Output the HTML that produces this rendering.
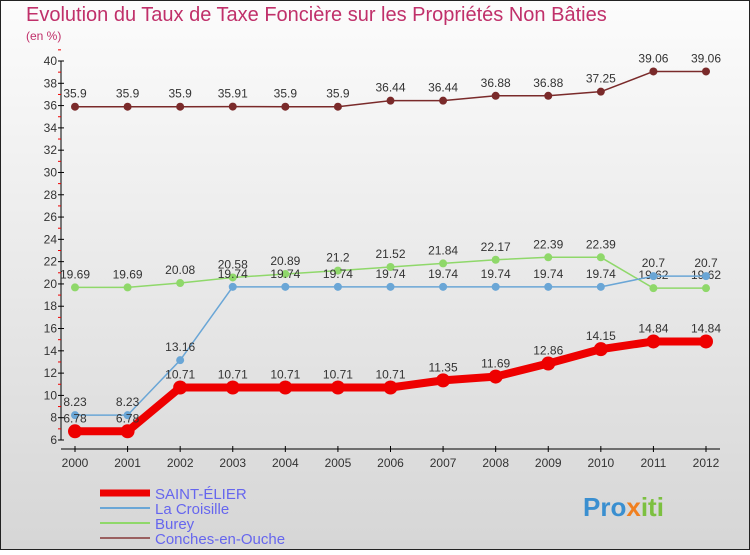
<!DOCTYPE html>
<html><head><meta charset="utf-8"><style>
body{margin:0;width:750px;height:550px;overflow:hidden;font-family:"Liberation Sans",sans-serif}
</style></head><body>
<svg width="750" height="550">
<defs><linearGradient id="bg" x1="0" y1="0" x2="0" y2="1"><stop offset="0" stop-color="#fcfcfc"/><stop offset="1" stop-color="#d6d6d6"/></linearGradient></defs>
<rect x="0.5" y="0.5" width="749" height="549" fill="url(#bg)" stroke="#222"/>
<text x="26" y="21" font-size="20" fill="#c0306a">Evolution du Taux de Taxe Foncière sur les Propriétés Non Bâties</text>
<text x="26" y="40" font-size="12" fill="#c0306a">(en %)</text>
<g id="axes"></g><g id="series"></g>
<g>
<line x1="100" y1="493" x2="150" y2="493" stroke="#e00" stroke-width="7"/>
<text x="155" y="499" font-size="15" fill="#6666ee">SAINT-ÉLIER</text>
<line x1="100" y1="508" x2="150" y2="508" stroke="#6aa6d6" stroke-width="2"/>
<text x="155" y="514" font-size="15" fill="#6666ee">La Croisille</text>
<line x1="100" y1="523" x2="150" y2="523" stroke="#8fd86a" stroke-width="2"/>
<text x="155" y="529" font-size="15" fill="#6666ee">Burey</text>
<line x1="100" y1="538" x2="150" y2="538" stroke="#9a6060" stroke-width="2"/>
<text x="155" y="544" font-size="15" fill="#6666ee">Conches-en-Ouche</text>
</g>
<text x="583" y="516" font-size="26" font-weight="bold" fill="#3a8fd0">Pro<tspan fill="#f08020">x</tspan><tspan fill="#7cc040">iti</tspan></text>
</svg>
<script>
const years=[2000,2001,2002,2003,2004,2005,2006,2007,2008,2009,2010,2011,2012];
const yTicks=[6,8,10,12,14,16,18,20,22,24,26,28,30,32,34,36,38,40];
const saintElier=[6.78,6.78,10.71,10.71,10.71,10.71,10.71,11.35,11.69,12.86,14.15,14.84,14.84];
const laCroisille=[8.23,8.23,13.16,19.74,19.74,19.74,19.74,19.74,19.74,19.74,19.74,20.7,20.7];
const burey=[19.69,19.69,20.08,20.58,20.89,21.2,21.52,21.84,22.17,22.39,22.39,19.62,19.62];
const conches=[35.9,35.9,35.9,35.91,35.9,35.9,36.44,36.44,36.88,36.88,37.25,39.06,39.06];
const NS="http://www.w3.org/2000/svg";
const X=i=>75+i*(706-75)/12;
const Y=v=>440-(v-6)*(379/34);
function mk(t,a,p){const e=document.createElementNS(NS,t);for(const k in a)e.setAttribute(k,a[k]);p.appendChild(e);return e;}
const ax=document.getElementById('axes');
const yl=mk('line',{x1:61,y1:Y(40),x2:61,y2:440,stroke:'#000'},ax);


const xl=mk('line',{x1:61,y1:449,x2:720,y2:449,stroke:'#000'},ax);


yTicks.forEach(v=>{
 mk('line',{x1:58,y1:Y(v),x2:64,y2:Y(v),stroke:'#000'},ax);
 mk('line',{x1:58,y1:Y(v+1),x2:61,y2:Y(v+1),stroke:'#e00'},ax);
 const t=mk('text',{x:57,y:Y(v)+4,'font-size':12,'text-anchor':'end',fill:'#333'},ax);
 t.textContent=v;
 
 
});
years.forEach((y,i)=>{
 mk('line',{x1:X(i),y1:446,x2:X(i),y2:452,stroke:'#000'},ax);
 const t=mk('text',{x:X(i),y:467,'font-size':12,'text-anchor':'middle',fill:'#333'},ax);
 t.textContent=y;
 
 
});
const sg=document.getElementById('series');
function series(data,color,w,r,name){
 const g=mk('g',{},sg);
 
 
 mk('polyline',{points:data.map((v,i)=>X(i)+','+Y(v)).join(' '),fill:'none',stroke:color,'stroke-width':w,'stroke-linejoin':'round'},g);
 data.forEach((v,i)=>{
  const c=mk('circle',{cx:X(i),cy:Y(v),r:r,fill:color},g);
  
  
  const t=mk('text',{x:X(i),y:Y(v)-9,'font-size':12,'text-anchor':'middle',fill:'#333'},g);
  t.textContent=String(v);
  
  
 });
}
series(conches,'#7a2a2a',1.5,4,'series-conches-en-ouche');
series(burey,'#8fd86a',1.5,4,'series-burey');
series(laCroisille,'#6aa6d6',1.5,4,'series-la-croisille');
series(saintElier,'#ee0000',8,7,'series-saint-elier');
</script>
</body></html>
